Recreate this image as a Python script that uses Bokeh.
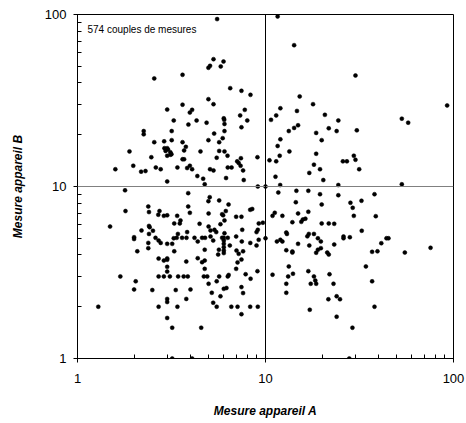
from bokeh.plotting import figure
from bokeh.models import Span, Label, FixedTicker, PrintfTickFormatter
from bokeh.embed import file_html
from bokeh.resources import INLINE

# ---- data: (Mesure appareil A, Mesure appareil B) ----
measure_a = [
    # lower-left quadrant
    3.0, 1.79, 1.8, 2.38, 2.4, 2.73, 2.69, 2.88, 3.0, 3.27, 1.49, 2.4, 2.42, 2.52, 2.19,
    2.0, 2.0, 2.4, 2.6, 2.7, 2.77, 2.38, 3.0, 3.19, 2.38, 2.08, 3.27, 2.7, 2.88, 3.0,
    3.0, 3.0, 3.0, 1.69, 2.7, 2.88, 3.1, 2.04, 2.0, 2.5, 1.29, 2.7, 3.0, 3.0, 3.0,
    3.19, 3.19,
    4.75, 9.1, 10.0, 3.88, 5.05, 4.97, 5.67, 6.36, 3.88, 3.96, 4.98, 5.88, 5.95, 6.15,
    6.98, 7.45, 8.29, 8.5, 3.39, 3.53, 3.5, 4.46, 6.05, 5.76, 9.21, 9.68, 4.98, 5.1,
    5.35, 5.47, 3.42, 3.83, 6.05, 7.52, 8.96, 9.1, 3.37, 3.6, 3.8, 3.25, 4.19, 4.36,
    4.6, 4.77, 5.1, 5.27, 5.88, 6.0, 6.3, 6.0, 6.0, 6.0, 6.0, 6.0, 5.65, 5.6, 6.46,
    6.98, 7.48, 8.3, 8.96, 9.2, 10.0, 7.01, 7.2, 7.6, 7.45, 7.1, 4.75, 4.36, 4.6, 4.75,
    3.79, 4.75, 4.7, 4.9, 3.43, 3.67, 3.86, 5.67, 6.37, 6.3, 6.98, 7.84, 8.33, 9.06,
    4.98, 5.5, 5.18, 5.76, 6.0, 6.2, 7.45, 7.6, 3.99, 3.33, 3.79, 3.4, 5.27, 5.5, 6.58,
    7.1, 8.29, 9.1, 7.45, 4.55, 4.07,
    # lower-right quadrant
    11.97, 24.4, 11.7, 14.6, 16.9, 19.5, 24.4, 14.5, 19.9, 11.2, 10.9, 12.3, 14.9, 16.9,
    13.9, 15.5, 15.8, 16.3, 19.9, 21.7, 23.2, 28.3, 29.1, 29.5, 12.9, 13.0, 11.5, 12.0,
    12.3, 14.9, 12.9, 13.9, 13.9, 16.7, 17.0, 18.1, 17.1, 19.0, 19.7, 19.7, 19.0, 18.6,
    21.3, 21.7, 23.2, 26.0, 26.0, 28.1, 10.9, 13.3, 13.2, 14.0, 12.9, 12.9, 16.9, 18.1,
    18.4, 18.6, 17.4, 21.9, 23.0, 21.6, 23.9, 24.9, 17.2, 23.9, 29.0, 27.9,
    53.1, 32.4, 38.0, 38.6, 32.5, 41.3, 44.0, 45.1, 36.9, 39.4, 55.1, 75.5, 34.2, 36.9,
    38.0,
    # upper-left quadrant
    5.53, 5.29, 5.98, 5.07, 4.97, 5.78, 2.56, 3.62, 6.49, 7.45, 8.32, 4.97, 5.29, 3.62,
    3.0, 4.07, 3.96, 7.76, 7.33, 6.0, 6.03, 3.25, 4.3, 8.0, 4.86, 3.89, 6.05, 7.45,
    2.25, 2.25, 3.17, 6.05, 5.33, 2.56, 2.89, 3.17, 3.62, 4.97, 5.67, 5.92, 3.77, 3.0,
    3.03, 3.12, 3.16, 2.94, 2.9, 3.69, 4.51, 5.67, 6.05, 1.89, 2.47, 3.0, 3.12, 3.62,
    3.69, 5.5, 6.28, 7.07, 7.2, 7.4, 6.3, 6.6, 7.37, 7.6, 9.06, 1.59, 1.98, 2.18, 2.3,
    2.61, 2.77, 3.4, 3.83, 3.96, 4.07, 5.07, 5.29, 4.34, 4.66, 6.17, 7.66,
    # upper-right quadrant
    11.6, 14.2, 30.1, 15.2, 17.9, 12.0, 11.4, 14.7, 10.7, 20.7, 24.4, 14.9, 14.2, 13.3,
    18.6, 21.7, 23.9, 30.6, 19.9, 12.0, 11.6, 13.4, 18.6, 11.9, 10.5, 11.4, 18.1, 19.5,
    17.1, 20.3, 11.3, 25.8, 27.1, 29.5, 30.1, 31.5, 53.1, 57.4, 92.5,
]
measure_b = [
    # lower-left quadrant
    10.7, 9.5, 7.2, 7.65, 7.1, 7.2, 6.85, 6.75, 6.8, 6.1, 5.85, 5.9, 5.8, 5.53, 5.55,
    5.07, 4.95, 5.3, 5.03, 4.85, 4.7, 4.7, 4.64, 4.64, 4.38, 4.2, 4.2, 3.81, 3.71, 3.75,
    3.82, 3.41, 3.2, 3.0, 3.0, 3.0, 3.0, 2.81, 2.52, 2.5, 2.0, 2.0, 2.22, 2.13, 1.72,
    1.51, 1.0,
    10.3, 10.0, 10.0, 9.15, 8.67, 8.22, 8.3, 7.86, 7.65, 7.03, 6.97, 6.9, 6.8, 7.2,
    6.67, 6.67, 7.32, 7.4, 6.75, 6.35, 6.1, 6.07, 6.35, 6.04, 6.1, 6.16, 5.85, 5.55,
    5.6, 5.43, 5.3, 5.43, 5.35, 5.6, 5.43, 5.6, 5.03, 5.03, 5.03, 5.0, 5.03, 4.79,
    5.03, 5.03, 5.12, 4.85, 5.03, 5.03, 5.03, 4.85, 4.64, 4.44, 4.24, 4.1, 4.29, 4.02, 4.54,
    5.12, 4.79, 4.7, 4.54, 4.9, 5.0, 4.24, 4.06, 4.2, 3.76, 3.62, 4.29, 3.83, 3.63, 3.71,
    3.66, 3.32, 3.0, 3.0, 3.0, 3.0, 3.0, 3.0, 3.06, 3.0, 3.32, 3.09, 2.91, 3.22,
    2.72, 2.81, 2.41, 2.3, 2.54, 2.57, 2.6, 2.4, 2.52, 2.5, 2.22, 2.0, 2.11, 2.0, 2.0,
    2.0, 2.0, 2.0, 1.81, 1.51, 1.0,
    # lower-right quadrant
    10.2, 10.2, 9.23, 9.44, 9.44, 9.02, 8.9, 8.1, 7.86, 7.03, 6.75, 6.75, 6.97, 7.13,
    6.2, 6.23, 6.43, 6.5, 6.1, 6.1, 6.07, 8.04, 7.52, 6.75, 5.4, 5.3, 4.79, 4.9,
    4.79, 4.64, 4.26, 4.19, 4.13, 5.13, 5.3, 5.3, 4.54, 5.0, 4.79, 4.38, 4.29, 4.12,
    4.13, 4.02, 4.6, 5.12, 5.0, 5.07, 3.07, 3.43, 3.0, 3.11, 2.72, 2.41, 3.22, 3.0,
    2.84, 2.72, 2.72, 3.09, 2.72, 2.21, 2.3, 2.21, 1.92, 1.75, 1.51, 1.0,
    10.3, 8.26, 9.02, 6.72, 5.53, 4.68, 5.0, 5.0, 4.17, 4.2, 4.13, 4.4, 3.43, 2.81,
    2.0,
    # upper-left quadrant
    94.0, 55.0, 53.3, 50.3, 49.0, 49.9, 42.5, 44.6, 37.3, 36.0, 34.1, 32.2, 30.1, 29.9,
    28.0, 27.9, 26.9, 27.9, 25.9, 24.9, 24.4, 24.2, 24.2, 24.2, 23.5, 22.9, 23.1, 22.1,
    21.0, 20.1, 21.0, 21.0, 20.3, 18.1, 18.3, 18.6, 18.1, 18.6, 18.1, 19.1, 17.0, 16.7,
    16.4, 15.8, 15.4, 16.1, 16.7, 16.2, 16.0, 16.1, 16.0, 16.0, 14.8, 15.1, 15.3, 14.4,
    14.4, 14.7, 15.1, 14.0, 13.7, 14.6, 12.9, 12.9, 13.2, 12.4, 14.8, 12.6, 13.2, 12.2, 12.3,
    12.9, 12.6, 12.9, 12.8, 13.2, 12.6, 12.6, 12.4, 11.5, 11.1, 11.2, 10.9,
    # upper-right quadrant
    97.4, 66.3, 44.2, 33.4, 30.1, 28.5, 25.9, 27.5, 24.4, 26.1, 24.2, 22.7, 21.9, 21.0,
    20.5, 21.8, 21.0, 21.2, 18.6, 18.8, 17.2, 16.0, 15.5, 15.1, 14.2, 14.0, 13.4, 12.6,
    12.0, 10.9, 11.4, 14.0, 14.0, 15.1, 14.3, 12.6, 24.8, 23.5, 29.6,
]
major_ticks = [1, 10, 100]
minor_ticks = [2, 3, 4, 5, 6, 7, 8, 9, 20, 30, 40, 50, 60, 70, 80, 90]
note_text = "574 couples de mesures"
x_title = "Mesure appareil A"
y_title = "Mesure appareil B"
reference_level = 10

FONT = "Liberation Sans"

p = figure(width=466, height=423, x_axis_type="log", y_axis_type="log",
           x_range=(1, 100), y_range=(1, 100),
           output_backend="svg", toolbar_location=None,
           min_border_left=77, min_border_right=13, min_border_top=14,
           min_border_bottom=65)

p.xgrid.visible = False
p.ygrid.visible = False
p.outline_line_color = "black"
p.outline_line_width = 1
p.background_fill_color = "white"
p.border_fill_color = "white"

for ax in (p.xaxis[0], p.yaxis[0]):
    ax.ticker = FixedTicker(ticks=major_ticks, minor_ticks=minor_ticks)
    ax.formatter = PrintfTickFormatter(format="%d")
    ax.major_tick_in = 4
    ax.major_tick_out = 4
    ax.minor_tick_in = 4
    ax.minor_tick_out = 0
    ax.major_tick_line_color = "black"
    ax.minor_tick_line_color = "black"
    ax.axis_line_color = "black"
    ax.major_label_text_font = FONT
    ax.major_label_text_font_size = "13px"
    ax.major_label_text_color = "black"
    ax.axis_label_text_font = FONT
    ax.axis_label_text_font_size = "12px"
    ax.axis_label_text_font_style = "bold italic"
    ax.axis_label_text_color = "black"

p.xaxis.axis_label = x_title
p.yaxis.axis_label = y_title
p.xaxis.major_label_standoff = 11
p.yaxis.major_label_standoff = 7
p.xaxis.axis_label_standoff = 18
p.yaxis.axis_label_standoff = 17

p.add_layout(Span(location=reference_level, dimension="width",
                  line_color="#808080", line_width=1))
p.add_layout(Span(location=reference_level, dimension="height",
                  line_color="black", line_width=1))

p.scatter(measure_a, measure_b, size=4, marker="circle",
          fill_color="black", line_color="black", line_width=0.5)

p.add_layout(Label(x=1.13, y=88, text=note_text, text_font=FONT,
                   text_font_size="10px", text_color="black",
                   text_baseline="top", text_align="left"))

open("out.html", "w").write(file_html(p, INLINE))
